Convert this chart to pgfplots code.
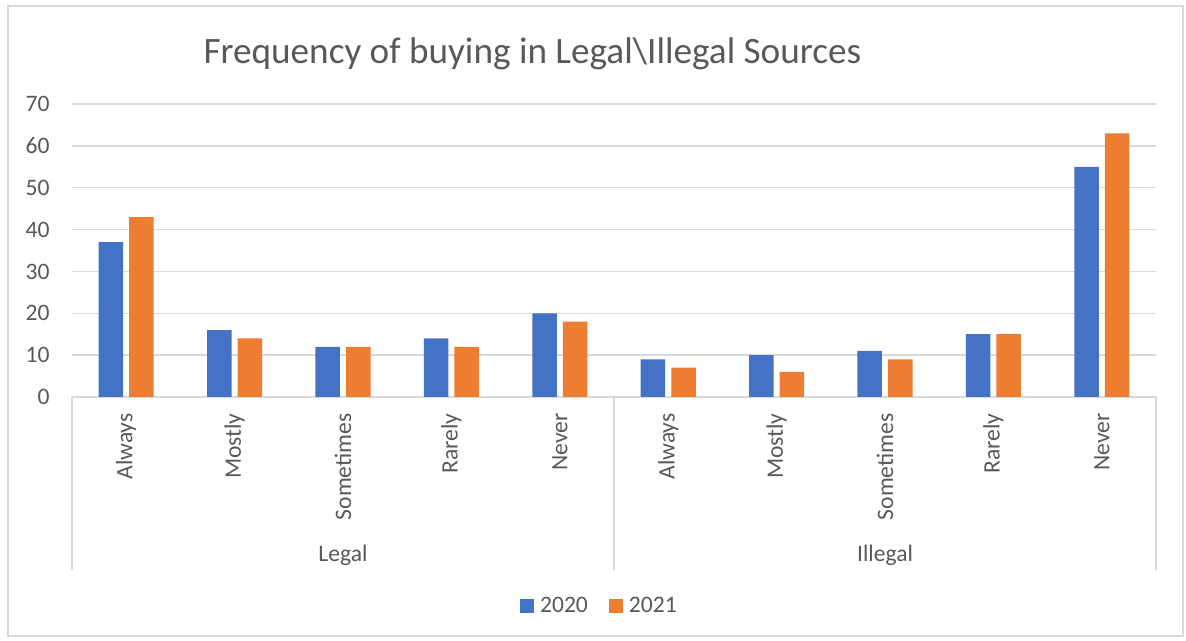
\documentclass[border=0pt]{standalone}
\usepackage{fontspec}
\setmainfont{Carlito}
\usepackage{pgfplots}
\pgfplotsset{compat=1.18}
\definecolor{cblue}{HTML}{4472C4}
\definecolor{corange}{HTML}{ED7D31}
\definecolor{ctext}{HTML}{595959}
\definecolor{cgrid}{HTML}{D9D9D9}
\newcommand{\tf}{\fontsize{11.8}{14}\selectfont}
\begin{document}
\begin{tikzpicture}
\useasboundingbox (0pt,0pt) rectangle (593pt,320.5pt);
\fill[white] (0pt,0pt) rectangle (593pt,320.5pt);
\draw[cgrid, line width=0.75pt] (4pt,2.5pt) rectangle (591.5pt,317.5pt);
\node[anchor=base, text=ctext, font=\fontsize{18.6}{22}\selectfont] at (266.2pt,288.8pt) {Frequency of buying in Legal\textbackslash Illegal Sources};
\begin{axis}[
  at={(36pt,122pt)}, anchor=south west, scale only axis,
  width=542pt, height=146.5pt,
  xmin=-0.5, xmax=9.5, ymin=0, ymax=70,
  ytick={0,10,...,70},
  ymajorgrids, grid style={cgrid, line width=0.75pt},
  axis x line*=bottom, axis y line*=left,
  x axis line style={cgrid, line width=0.75pt, -},
  y axis line style={draw=none},
  major tick length=0pt,
  xtick={0,...,9},
  xticklabels={Always,Mostly,Sometimes,Rarely,Never,Always,Mostly,Sometimes,Rarely,Never},
  xticklabel style={rotate=90, anchor=east, inner sep=0pt, font=\tf, text=ctext},
  xticklabel shift=8pt,
  yticklabel style={inner sep=0pt, font=\tf, text=ctext},
  yticklabel shift=11pt,
  /pgf/number format/assume math mode=true,
  ybar, bar width=0.226,
  clip=false,
  legend style={at={(0.487,-0.715)}, anchor=center, draw=none, fill=none,
    legend columns=2, font=\tf, text=ctext,
    /tikz/every odd column/.append style={column sep=1.5pt},
    /tikz/every even column/.append style={column sep=9pt},
    nodes={inner sep=1.5pt}},
]
\addplot[fill=cblue, draw=none, bar shift=-0.141,
  legend image code/.code={\fill[cblue] (0pt,-3.5pt) rectangle (7pt,3.5pt);}]
  coordinates {(0,37) (1,16) (2,12) (3,14) (4,20) (5,9) (6,10) (7,11) (8,15) (9,55)};
\addplot[fill=corange, draw=none, bar shift=0.141,
  legend image code/.code={\fill[corange] (0pt,-3.5pt) rectangle (7pt,3.5pt);}]
  coordinates {(0,43) (1,14) (2,12) (3,12) (4,18) (5,7) (6,6) (7,9) (8,15) (9,63)};
\legend{2020,2021}
\draw[cgrid, line width=0.75pt] (axis cs:-0.5,0) -- ([yshift=-86.5pt]axis cs:-0.5,0);
\draw[cgrid, line width=0.75pt] (axis cs:4.5,0) -- ([yshift=-86.5pt]axis cs:4.5,0);
\draw[cgrid, line width=0.75pt] (axis cs:9.5,0) -- ([yshift=-86.5pt]axis cs:9.5,0);
\node[anchor=base, font=\tf, text=ctext] at ([yshift=-82.5pt]axis cs:2,0) {Legal};
\node[anchor=base, font=\tf, text=ctext] at ([yshift=-82.5pt]axis cs:7,0) {Illegal};
\end{axis}
\end{tikzpicture}
\end{document}
